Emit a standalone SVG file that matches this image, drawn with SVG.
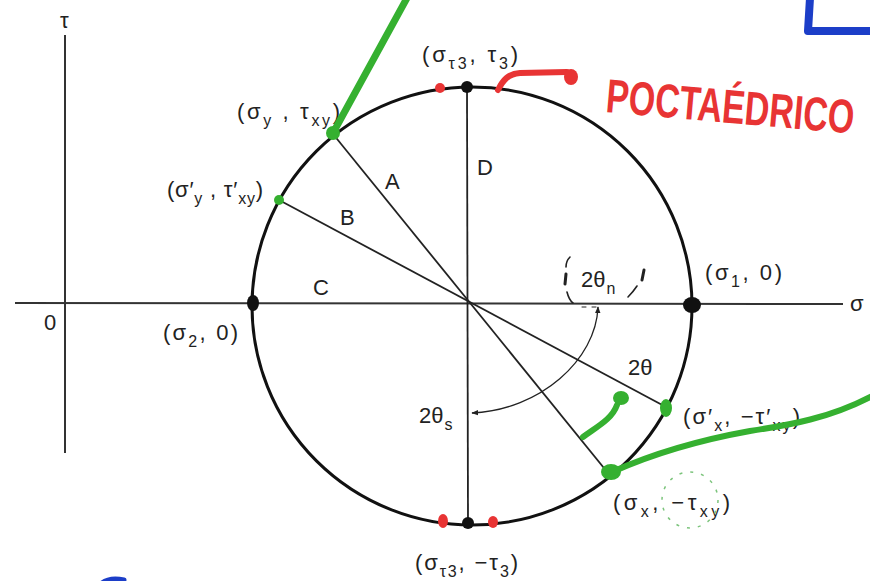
<svg xmlns="http://www.w3.org/2000/svg" width="870" height="581" viewBox="0 0 870 581">
<defs>
<style>
.lbl{font-family:"Liberation Sans",Arial,sans-serif;font-size:22px;fill:#222}
.let{font-family:"Liberation Sans",Arial,sans-serif;font-size:22px;fill:#222}
.sub{font-size:16px}
.ax{stroke:#333;stroke-width:2;fill:none}
.dia{stroke:#222;stroke-width:1.8;fill:none}
.gr{stroke:#35b030;stroke-linecap:round;stroke-linejoin:round;fill:none}
.grf{fill:#35b030}
.rd{fill:#e83434}
.dash{stroke:#222;fill:none;stroke-linecap:round}
</style>
<marker id="ah" viewBox="0 0 10 10" refX="9" refY="5" markerWidth="7" markerHeight="7" orient="auto-start-reverse" markerUnits="userSpaceOnUse">
<path d="M0,1 L10,5 L0,9 Z" fill="#222"/>
</marker>
</defs>
<rect width="870" height="581" fill="#fff"/>

<g id="axes">
<line class="ax" x1="15" y1="303" x2="843" y2="304"/>
<line class="ax" x1="65" y1="35" x2="65" y2="453"/>
<text class="lbl" x="60" y="28">τ</text>
<text class="lbl" x="850" y="311">σ</text>
<text class="lbl" x="44" y="330">0</text>
</g>

<g id="mohr-circle">
<ellipse cx="472" cy="306" rx="220" ry="219" fill="none" stroke="#111" stroke-width="3"/>
</g>

<g id="connectors">
<line class="dia" x1="467" y1="87" x2="468" y2="523"/>
<line class="dia" x1="333" y1="134" x2="608" y2="473"/>
<line class="dia" x1="279" y1="200" x2="666" y2="407"/>
<path d="M598,307 C596,360 540,410 472,413" fill="none" stroke="#222" stroke-width="1.3" marker-start="url(#ah)" marker-end="url(#ah)"/>
</g>

<g id="region-labels">
<text class="let" x="385" y="189">A</text>
<text class="let" x="340" y="225">B</text>
<text class="let" x="313" y="295">C</text>
<text class="let" x="477" y="175">D</text>
</g>

<g id="angle-labels">
<text class="let" x="581" y="287">2θ<tspan class="sub" dx="1" dy="7">n</tspan></text>
<text class="let" x="628" y="375">2θ</text>
<text class="let" x="419" y="423">2θ<tspan class="sub" dx="1" dy="7">s</tspan></text>
<path class="dash" stroke-width="1.6" d="M570,257 Q566,261 566,267"/>
<path class="dash" stroke-width="3" d="M566,274 L565,284"/>
<path class="dash" stroke-width="1.6" d="M567,292 Q569,300 573,303"/>
<path class="dash" stroke-width="3" d="M644,270 L642,280"/>
<path class="dash" stroke-width="1.6" d="M637,286 Q633,292 628,297"/>
<path class="dash" stroke-width="1" stroke="#999" d="M582,307 L586,307 M592,307 L596,307"/>
</g>

<g id="node-s2">
<ellipse cx="253" cy="303" rx="6" ry="8" fill="#111"/>
<text class="lbl" x="163" y="340" textLength="75" lengthAdjust="spacing">(σ<tspan class="sub" dy="7">2</tspan><tspan dy="-7">, 0)</tspan></text>
</g>

<g id="node-s1">
<ellipse cx="692" cy="305" rx="9" ry="8" fill="#111"/>
<text class="lbl" x="705" y="280" textLength="77" lengthAdjust="spacing">(σ<tspan class="sub" dy="7">1</tspan><tspan dy="-7">, 0)</tspan></text>
</g>

<g id="node-top">
<circle cx="467" cy="87" r="6" fill="#111"/>
<text class="lbl" x="422" y="62" textLength="96" lengthAdjust="spacing">(σ<tspan class="sub" dy="7">τ3</tspan><tspan dy="-7">, τ</tspan><tspan class="sub" dy="7">3</tspan><tspan dy="-7">)</tspan></text>
</g>

<g id="node-bottom">
<circle cx="468" cy="523" r="6" fill="#111"/>
<text class="lbl" x="415" y="570" textLength="103" lengthAdjust="spacing">(σ<tspan class="sub" dy="7">τ3</tspan><tspan dy="-7">, −τ</tspan><tspan class="sub" dy="7">3</tspan><tspan dy="-7">)</tspan></text>
</g>

<g id="node-sy">
<text class="lbl" x="237" y="119" textLength="103" lengthAdjust="spacing">(σ<tspan class="sub" dy="7">y</tspan><tspan dy="-7"> , τ</tspan><tspan class="sub" dy="7">xy</tspan><tspan dy="-7">)</tspan></text>
</g>

<g id="node-sy-prime">
<text class="lbl" x="167" y="197" textLength="96" lengthAdjust="spacing">(σ′<tspan class="sub" dy="7">y</tspan><tspan dy="-7"> , τ′</tspan><tspan class="sub" dy="7">xy</tspan><tspan dy="-7">)</tspan></text>
</g>

<g id="node-sx-prime">
<text class="lbl" x="683" y="424" textLength="117" lengthAdjust="spacing">(σ′<tspan class="sub" dy="7">x</tspan><tspan dy="-7">, −τ′</tspan><tspan class="sub" dy="7">xy</tspan><tspan dy="-7">)</tspan></text>
</g>

<g id="node-sx">
<text class="lbl" x="613" y="510" textLength="117" lengthAdjust="spacing">(σ<tspan class="sub" dy="7">x</tspan><tspan dy="-7">, −τ</tspan><tspan class="sub" dy="7">xy</tspan><tspan dy="-7">)</tspan></text>
</g>

<g id="green-annotations">
<line class="gr" x1="333" y1="133" x2="407" y2="-2" stroke-width="7"/>
<circle class="grf" cx="333" cy="133" r="7"/>
<circle class="grf" cx="279" cy="200" r="5"/>
<ellipse class="grf" cx="666" cy="408" rx="6" ry="9"/>
<ellipse class="grf" cx="611" cy="472" rx="10" ry="8"/>
<path class="gr" stroke-width="6" d="M612,472 C650,455 700,440 750,431 C790,425 830,418 872,396"/>
<path class="gr" stroke-width="6" d="M583,437 C598,426 612,419 617,405"/>
<ellipse class="grf" cx="621" cy="398" rx="8" ry="7"/>
<circle cx="690" cy="500" r="28" fill="none" stroke="#7cc47c" stroke-width="1.5" stroke-dasharray="3 8"/>
</g>

<g id="red-annotations">
<circle class="rd" cx="440" cy="88" r="5"/>
<path d="M498,90 C503,80 508,74 520,73 L567,72" fill="none" stroke="#e83434" stroke-width="6" stroke-linecap="round"/>
<ellipse class="rd" cx="571" cy="77" rx="7" ry="8"/>
<ellipse class="rd" cx="443" cy="521" rx="5" ry="7"/>
<ellipse class="rd" cx="493" cy="522" rx="5" ry="6"/>
<text x="0" y="0" transform="translate(605 112) rotate(5) scale(1 1.4)" font-family="Liberation Sans, Arial, sans-serif" font-size="34" font-weight="bold" fill="#e83434">POCTAÉDRICO</text>
</g>

<g id="blue-annotations">
<path d="M810,-2 L808,31 L872,31" fill="none" stroke="#1c3ec8" stroke-width="8" stroke-linejoin="round"/>
<path d="M102,583 Q110,577 124,580" fill="none" stroke="#1c3ec8" stroke-width="5" stroke-linecap="round"/>
</g>
</svg>
